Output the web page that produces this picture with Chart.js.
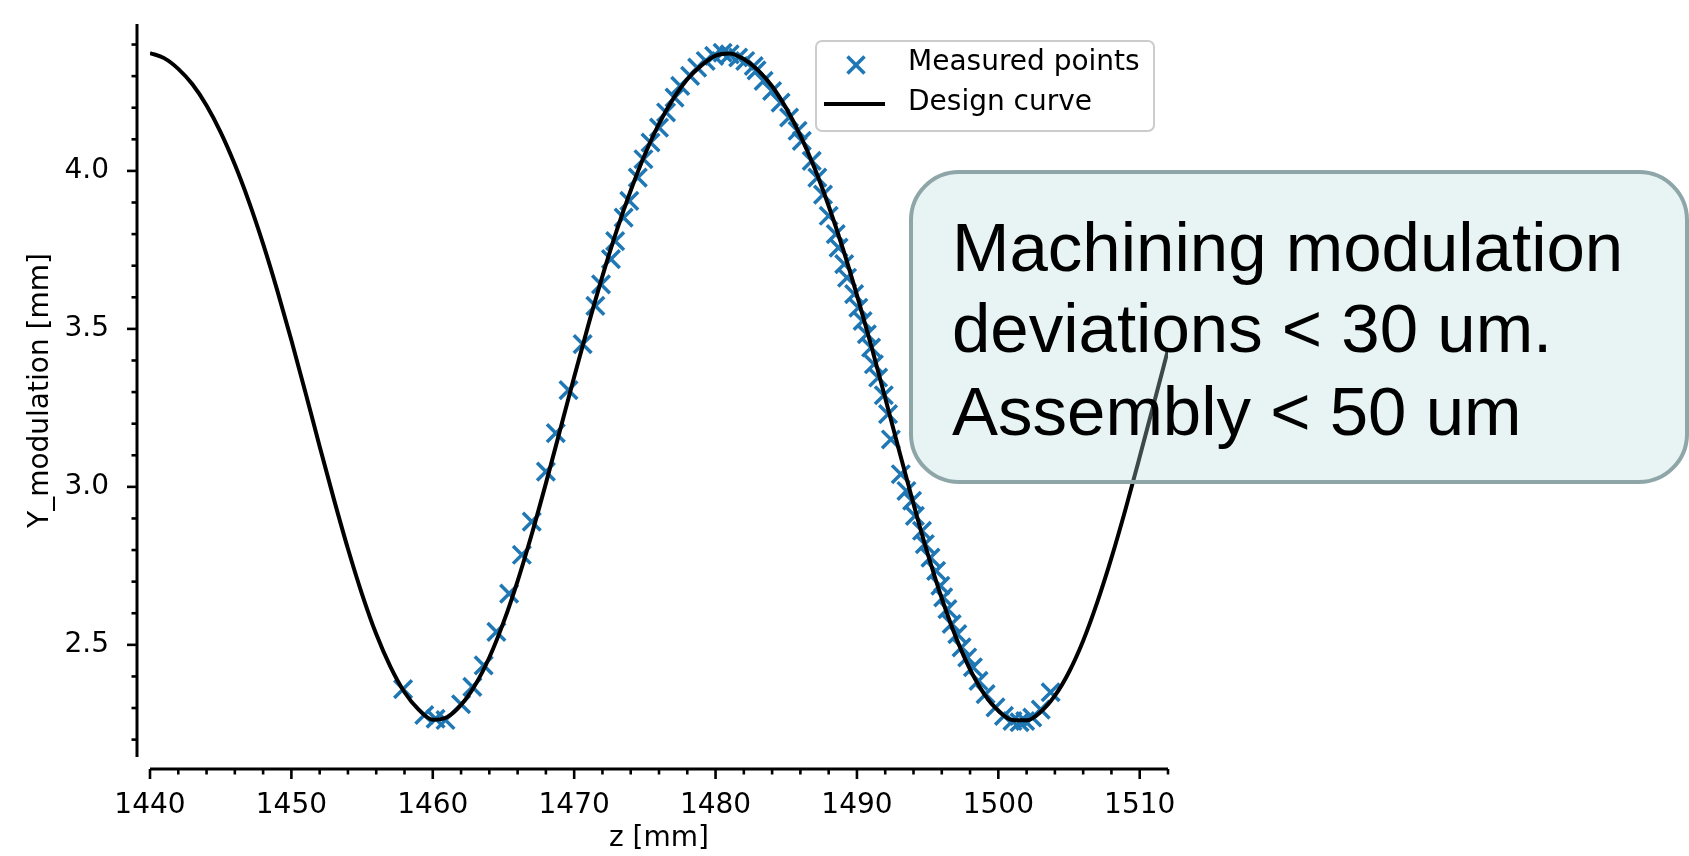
<!DOCTYPE html>
<html>
<head>
<meta charset="utf-8">
<script src="https://cdn.jsdelivr.net/npm/chart.js@4.4.1/dist/chart.umd.min.js"></script>
<style>
  html, body { margin: 0; padding: 0; background: #fff; }
  canvas { display: block; }
</style>
</head>
<body>
<canvas id="myChart" width="1689" height="856"></canvas>
<script>
// design curve, every 1 mm
var designZ = [1440, 1441, 1442, 1443, 1444, 1445, 1446, 1447, 1448, 1449,
    1450, 1451, 1452, 1453, 1454, 1455, 1456, 1457, 1458, 1459,
    1460, 1461, 1462, 1463, 1464, 1465, 1466, 1467, 1468, 1469,
    1470, 1471, 1472, 1473, 1474, 1475, 1476, 1477, 1478, 1479,
    1480, 1481, 1482, 1483, 1484, 1485, 1486, 1487, 1488, 1489,
    1490, 1491, 1492, 1493, 1494, 1495, 1496, 1497, 1498, 1499,
    1500, 1501, 1502, 1503, 1504, 1505, 1506, 1507, 1508, 1509,
    1510, 1511, 1512];
var designY = [4.373, 4.357, 4.323, 4.274, 4.207, 4.122, 4.020, 3.902, 3.769, 3.622,
    3.464, 3.298, 3.128, 2.962, 2.804, 2.660, 2.534, 2.431, 2.350, 2.295,
    2.263, 2.271, 2.310, 2.373, 2.460, 2.571, 2.702, 2.850, 3.011, 3.179,
    3.348, 3.512, 3.667, 3.810, 3.938, 4.052, 4.149, 4.228, 4.290, 4.334,
    4.365, 4.372, 4.354, 4.319, 4.268, 4.198, 4.112, 4.009, 3.889, 3.755,
    3.607, 3.448, 3.281, 3.112, 2.946, 2.789, 2.647, 2.524, 2.422, 2.344,
    2.291, 2.262, 2.261, 2.288, 2.339, 2.414, 2.513, 2.635, 2.775, 2.930,
    3.095, 3.264, 3.434];

// measured points
var measuredZ = [1457.9, 1459.4, 1460.2, 1460.9, 1462.0, 1462.8, 1463.6, 1464.5, 1465.4, 1466.3,
    1467.0, 1468.0, 1468.7, 1469.6, 1470.6, 1471.5, 1471.9, 1472.6, 1472.9, 1473.5,
    1473.9, 1474.5, 1474.9, 1475.4, 1476.0, 1476.5, 1477.1, 1477.5, 1478.2, 1478.7,
    1479.3, 1479.9, 1480.5, 1481.0, 1481.6, 1482.1, 1482.7, 1482.9, 1483.4, 1484.0,
    1484.6, 1485.2, 1485.8, 1486.1, 1486.8, 1487.2, 1487.6, 1488.0, 1488.5, 1488.7,
    1489.1, 1489.3, 1489.8, 1490.1, 1490.4, 1490.7, 1491.0, 1491.2, 1491.5, 1491.9,
    1492.2, 1492.4, 1493.1, 1493.5, 1493.9, 1494.1, 1494.6, 1494.8, 1495.2, 1495.6,
    1495.9, 1496.1, 1496.4, 1496.7, 1497.1, 1497.4, 1497.8, 1498.2, 1498.6, 1499.1,
    1499.8, 1500.4, 1501.0, 1501.5, 1501.9, 1502.4, 1503.0, 1503.7];
var measuredY = [2.360, 2.278, 2.266, 2.262, 2.312, 2.367, 2.435, 2.541, 2.662, 2.785,
    2.890, 3.048, 3.170, 3.306, 3.452, 3.573, 3.641, 3.721, 3.778, 3.852,
    3.905, 3.979, 4.037, 4.090, 4.137, 4.185, 4.232, 4.269, 4.301, 4.327,
    4.348, 4.364, 4.374, 4.369, 4.359, 4.348, 4.332, 4.318, 4.285, 4.253,
    4.216, 4.169, 4.127, 4.095, 4.032, 3.979, 3.925, 3.858, 3.800, 3.757,
    3.705, 3.662, 3.610, 3.567, 3.525, 3.483, 3.441, 3.388, 3.346, 3.290,
    3.230, 3.150, 3.040, 2.987, 2.956, 2.908, 2.861, 2.819, 2.776, 2.734,
    2.687, 2.650, 2.613, 2.566, 2.534, 2.492, 2.460, 2.429, 2.386, 2.344,
    2.302, 2.275, 2.259, 2.255, 2.259, 2.270, 2.295, 2.350];

var xMajorTicks = [1440, 1450, 1460, 1470, 1480, 1490, 1500, 1510];
var xMinorTicks = [1442, 1444, 1446, 1448, 1452, 1454, 1456, 1458, 1462, 1464, 1466, 1468,
    1472, 1474, 1476, 1478, 1482, 1484, 1486, 1488, 1492, 1494, 1496, 1498,
    1502, 1504, 1506, 1508, 1512];
var yMajorTicks = [2.5, 3.0, 3.5, 4.0];
var yMinorTicks = [2.2, 2.3, 2.4, 2.6, 2.7, 2.8, 2.9, 3.1, 3.2, 3.3, 3.4, 3.6, 3.7, 3.8, 3.9, 4.1, 4.2, 4.3, 4.4];

var noteLines = ["Machining modulation", "deviations < 30 um.", "Assembly < 50 um"];

var blue = "#1f77b4";
var tickFont = { family: "DejaVu Sans", size: 28 };

function toPoints(xs, ys) {
    var pts = [];
    for (var i = 0; i < xs.length; i++) {
        pts.push({ x: xs[i], y: ys[i] });
    }
    return pts;
}

function line(ctx, x1, y1, x2, y2) {
    ctx.beginPath();
    ctx.moveTo(x1, y1);
    ctx.lineTo(x2, y2);
    ctx.stroke();
}

function roundRect(ctx, x, y, w, h, r) {
    ctx.beginPath();
    ctx.moveTo(x + r, y);
    ctx.lineTo(x + w - r, y);
    ctx.arcTo(x + w, y, x + w, y + r, r);
    ctx.lineTo(x + w, y + h - r);
    ctx.arcTo(x + w, y + h, x + w - r, y + h, r);
    ctx.lineTo(x + r, y + h);
    ctx.arcTo(x, y + h, x, y + h - r, r);
    ctx.lineTo(x, y + r);
    ctx.arcTo(x, y, x + r, y, r);
    ctx.closePath();
}

// offset spines, minor ticks, legend and the note box
var extras = {
    id: "extras",
    afterDraw: function (chart) {
        var ctx = chart.ctx;
        var xs = chart.scales.x;
        var ys = chart.scales.y;
        var area = chart.chartArea;
        var sx = area.left - 13;
        var sy = area.bottom + 12;

        ctx.save();
        ctx.strokeStyle = "#000";
        ctx.lineWidth = 3;
        line(ctx, sx, area.top, sx, area.bottom);
        line(ctx, area.left, sy, area.right, sy);

        ctx.lineWidth = 2.6;
        yMajorTicks.forEach(function (v) {
            var p = ys.getPixelForValue(v);
            line(ctx, sx - 10, p, sx, p);
        });
        yMinorTicks.forEach(function (v) {
            var p = ys.getPixelForValue(v);
            line(ctx, sx - 5.5, p, sx, p);
        });
        xMajorTicks.forEach(function (v) {
            var p = xs.getPixelForValue(v);
            line(ctx, p, sy, p, sy + 10);
        });
        xMinorTicks.forEach(function (v) {
            var p = xs.getPixelForValue(v);
            line(ctx, p, sy, p, sy + 5.5);
        });

        // legend
        var ds = chart.data.datasets;
        roundRect(ctx, 816, 41, 338, 90, 6);
        ctx.fillStyle = "rgba(255,255,255,0.8)";
        ctx.fill();
        ctx.strokeStyle = "#cccccc";
        ctx.lineWidth = 2;
        ctx.stroke();

        ctx.strokeStyle = ds[1].borderColor;
        ctx.lineWidth = 3.5;
        var cx = 856, cy = 65, h = 8.5;
        line(ctx, cx - h, cy - h, cx + h, cy + h);
        line(ctx, cx - h, cy + h, cx + h, cy - h);

        ctx.strokeStyle = ds[0].borderColor;
        ctx.lineWidth = 4;
        line(ctx, 824, 104, 885, 104);

        ctx.fillStyle = "#000";
        ctx.font = "28px 'DejaVu Sans'";
        ctx.textBaseline = "middle";
        ctx.textAlign = "left";
        ctx.fillText(ds[1].label, 908, 63);
        ctx.fillText(ds[0].label, 908, 103);

        // note box
        roundRect(ctx, 911, 172, 776, 310, 48);
        ctx.fillStyle = "rgba(185,222,222,0.33)";
        ctx.fill();
        ctx.strokeStyle = "#8ea6a8";
        ctx.lineWidth = 4;
        ctx.stroke();

        ctx.fillStyle = "#000";
        ctx.font = "69px 'Liberation Sans'";
        ctx.textBaseline = "alphabetic";
        ctx.fillText(noteLines[0], 952, 271);
        ctx.fillText(noteLines[1], 952, 352);
        ctx.fillText(noteLines[2], 952, 435);
        ctx.restore();
    }
};

var ctx = document.getElementById("myChart").getContext("2d");
var myChart = new Chart(ctx, {
    type: "scatter",
    data: {
        datasets: [{
            label: "Design curve",
            data: toPoints(designZ, designY),
            showLine: true,
            borderColor: "#000000",
            borderWidth: 4,
            pointRadius: 0,
            cubicInterpolationMode: "monotone",
            order: 0
        }, {
            label: "Measured points",
            data: toPoints(measuredZ, measuredY),
            showLine: false,
            pointStyle: "crossRot",
            pointRadius: 12.5,
            borderWidth: 3.5,
            borderColor: blue,
            backgroundColor: blue,
            order: 1
        }]
    },
    options: {
        responsive: false,
        animation: false,
        devicePixelRatio: 1,
        layout: { padding: { top: 24, right: 521, bottom: 0, left: 0 } },
        plugins: {
            legend: { display: false },
            tooltip: { enabled: false }
        },
        scales: {
            x: {
                type: "linear",
                min: 1440,
                max: 1512,
                grid: { display: false },
                border: { display: false },
                afterBuildTicks: function (scale) {
                    scale.ticks = xMajorTicks.map(function (v) { return { value: v }; });
                },
                afterFit: function (scale) {
                    scale.height = 99;
                    scale.paddingLeft = 0;
                    scale.paddingRight = 0;
                },
                ticks: {
                    font: tickFont,
                    color: "#000",
                    padding: 24,
                    maxRotation: 0,
                    callback: function (v) { return String(v); }
                },
                title: {
                    display: true,
                    text: "z [mm]",
                    font: tickFont,
                    color: "#000",
                    padding: { top: 0, bottom: 0 }
                }
            },
            y: {
                type: "linear",
                min: 2.145,
                max: 4.465,
                grid: { display: false },
                border: { display: false },
                afterBuildTicks: function (scale) {
                    scale.ticks = yMajorTicks.map(function (v) { return { value: v }; });
                },
                afterFit: function (scale) {
                    scale.width = 150;
                    scale.paddingTop = 0;
                    scale.paddingBottom = 0;
                },
                ticks: {
                    font: tickFont,
                    color: "#000",
                    padding: 33,
                    callback: function (v) { return v.toFixed(1); }
                },
                title: {
                    display: true,
                    text: "Y_modulation [mm]",
                    font: tickFont,
                    color: "#000",
                    padding: { top: 24, bottom: 0 }
                }
            }
        }
    },
    plugins: [extras]
});
</script>
</body>
</html>
